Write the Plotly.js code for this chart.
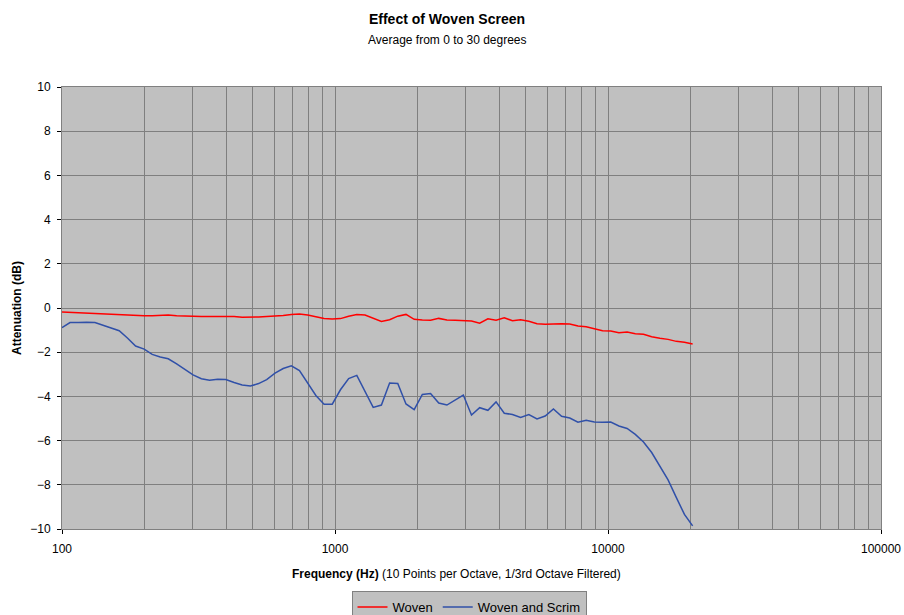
<!DOCTYPE html>
<html>
<head>
<meta charset="utf-8">
<script src="https://cdn.plot.ly/plotly-3.0.1.min.js"></script>
<style>html,body{margin:0;padding:0;background:#fff;}#chart{width:904px;height:615px;}</style>
</head>
<body>
<div id="chart"></div>
<script>
// Frequencies (Hz), 10 points per octave
const frequency = [100,107,115,123,132,141,151,162,174,186,200,214,229,245,263,282,302,324,347,372,
  398,427,457,490,525,562,603,646,692,741,794,851,912,977,1047,1122,1202,1288,1380,1479,
  1585,1698,1820,1950,2089,2239,2399,2570,2754,2951,3162,3388,3631,3890,4169,4467,4786,5129,5495,5888,
  6310,6761,7244,7762,8318,8913,9550,10233,10965,11749,12589,13490,14454,15488,16596,17783,19055,20417];

// Attenuation (dB)
const woven = [-0.18,-0.20,-0.22,-0.24,-0.25,-0.26,-0.28,-0.29,-0.31,-0.33,-0.35,-0.35,-0.33,-0.32,-0.35,-0.37,-0.39,-0.39,-0.39,-0.39,
  -0.38,-0.38,-0.42,-0.43,-0.41,-0.39,-0.37,-0.34,-0.29,-0.27,-0.32,-0.39,-0.47,-0.50,-0.48,-0.37,-0.29,-0.32,-0.46,-0.61,
  -0.53,-0.37,-0.29,-0.51,-0.54,-0.55,-0.47,-0.54,-0.55,-0.57,-0.59,-0.69,-0.49,-0.55,-0.44,-0.58,-0.53,-0.60,-0.71,-0.74,
  -0.71,-0.71,-0.72,-0.81,-0.85,-0.94,-1.03,-1.04,-1.12,-1.09,-1.16,-1.19,-1.30,-1.37,-1.42,-1.51,-1.55,-1.63];

const wovenAndScrim = [-0.89,-0.66,-0.66,-0.64,-0.66,-0.78,-0.90,-1.03,-1.37,-1.72,-1.86,-2.10,-2.22,-2.30,-2.53,-2.80,-3.03,-3.20,-3.27,-3.22,
  -3.24,-3.37,-3.48,-3.53,-3.42,-3.24,-2.95,-2.74,-2.62,-2.83,-3.40,-3.96,-4.36,-4.35,-3.70,-3.19,-3.05,-3.76,-4.50,-4.39,
  -3.39,-3.42,-4.34,-4.60,-3.91,-3.87,-4.30,-4.39,-4.16,-3.94,-4.84,-4.51,-4.63,-4.25,-4.76,-4.82,-4.95,-4.82,-5.02,-4.89,
  -4.57,-4.90,-4.98,-5.17,-5.08,-5.16,-5.17,-5.16,-5.34,-5.45,-5.72,-6.06,-6.54,-7.15,-7.78,-8.57,-9.34,-9.86];

const seriesNames = ['Woven', 'Woven and Scrim'];
const xMajorTicks = [100, 1000, 10000, 100000];
const xMajorLabels = ['100', '1000', '10000', '100000'];
const xMinorTicks = [200,300,400,500,600,700,800,900,2000,3000,4000,5000,6000,7000,8000,9000,
  20000,30000,40000,50000,60000,70000,80000,90000];

const font = 'Liberation Sans, Arial, sans-serif';
const gridColor = '#7f7f7f';

const traces = [
  {x: frequency, y: woven, name: seriesNames[0], type: 'scatter', mode: 'lines',
   line: {color: '#ff0000', width: 1.5}},
  {x: frequency, y: wovenAndScrim, name: seriesNames[1], type: 'scatter', mode: 'lines',
   line: {color: '#3050a8', width: 1.5}}
];

const layout = {
  width: 904, height: 615,
  margin: {l: 62, r: 23, t: 87, b: 86, autoexpand: false},
  paper_bgcolor: '#ffffff',
  plot_bgcolor: '#c0c0c0',
  font: {family: font, size: 12, color: '#000'},
  showlegend: true,
  title: {
    text: '<b>Effect of Woven Screen</b>',
    font: {family: font, size: 14, color: '#000'},
    xref: 'container', yref: 'container',
    x: 447/904, xanchor: 'center', y: 1 - 19/615, yanchor: 'middle'
  },
  xaxis: {
    type: 'log', range: [2, 5],
    tickmode: 'array', tickvals: xMajorTicks, ticktext: xMajorLabels,
    ticks: 'outside', ticklen: 4, tickcolor: '#000', ticklabelstandoff: 5,
    showgrid: true, gridcolor: gridColor, gridwidth: 1,
    minor: {tickmode: 'array', tickvals: xMinorTicks, showgrid: true, gridcolor: gridColor, gridwidth: 1, ticks: ''},
    showline: true, linecolor: '#808080', linewidth: 1, mirror: true,
    zeroline: false,
    tickfont: {family: font, size: 12, color: '#000'}
  },
  yaxis: {
    range: [-10, 10], dtick: 2, tick0: -10,
    ticks: 'outside', ticklen: 4, tickcolor: '#000', ticklabelstandoff: 4,
    showgrid: true, gridcolor: gridColor, gridwidth: 1,
    showline: true, linecolor: '#808080', linewidth: 1, mirror: true,
    zeroline: false,
    tickfont: {family: font, size: 12, color: '#000'},
    title: {text: '<b>Attenuation (dB)</b>', font: {family: font, size: 12, color: '#000'}, standoff: 6}
  },
  legend: {
    orientation: 'h',
    x: (469 - 62) / 819, xanchor: 'center',
    y: (529 - 591) / 442, yanchor: 'top',
    bgcolor: '#c0c0c0', bordercolor: '#808080', borderwidth: 1,
    font: {family: font, size: 13, color: '#000'},
    itemwidth: 30, tracegroupgap: 0
  },
  annotations: [
    {text: 'Average from 0 to 30 degrees', xref: 'paper', yref: 'paper',
     x: (447 - 62) / 819, y: (529 - 40) / 442, xanchor: 'center', yanchor: 'middle',
     showarrow: false, font: {family: font, size: 12, color: '#000'}},
    {text: '<b>Frequency (Hz)</b> (10 Points per Octave, 1/3rd Octave Filtered)', xref: 'paper', yref: 'paper',
     x: (456 - 62) / 819, y: (529 - 574) / 442, xanchor: 'center', yanchor: 'middle',
     showarrow: false, font: {family: font, size: 12, color: '#000'}}
  ]
};

Plotly.newPlot('chart', traces, layout, {displayModeBar: false, staticPlot: true});
</script>
</body>
</html>
